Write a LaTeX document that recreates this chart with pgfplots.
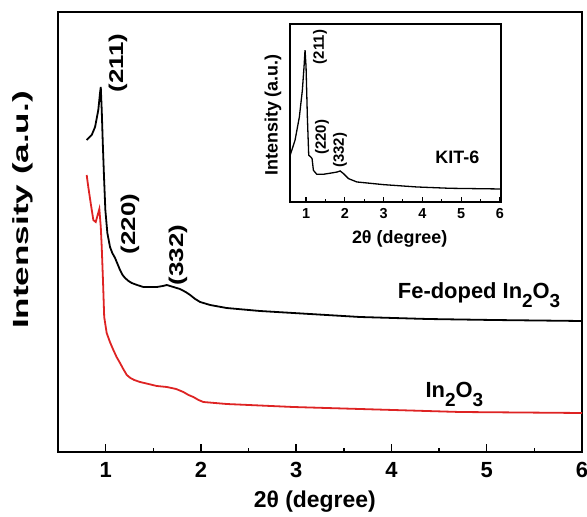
\documentclass[border=0pt]{standalone}
\usepackage{pgfplots}
\pgfplotsset{compat=1.18}
\usepackage{graphicx}
\usepackage{fontspec}
\setmainfont{Liberation Sans}
\definecolor{inred}{RGB}{222,35,35}
\newcommand\sub[1]{\raisebox{-0.45em}{\fontsize{19}{19}\selectfont #1}}

\begin{document}
\begin{tikzpicture}
\path[use as bounding box] (0,0) rectangle (587bp,517bp);

% main panel
\begin{axis}[
    at={(58bp,65bp)}, anchor=south west,
    scale only axis, width=524bp, height=440bp,
    xmin=0.5, xmax=6, ymin=0, ymax=440,
    xtick={1,2,3,4,5,6}, minor xtick={1.5,2.5,3.5,4.5,5.5},
    xtick pos=bottom, ytick=\empty,
    major tick length=8bp, minor tick length=4bp,
    every tick/.style={line width=1.4bp, black},
    axis line style={line width=1.6bp},
    /pgf/number format/assume math mode=true,
    tick label style={font=\fontsize{22}{22}\selectfont\bfseries},
    xticklabel style={yshift=-7bp},
    xlabel={2θ (degree)},
    xlabel style={at={(rel axis cs:0.49,-0.113)}, anchor=center,
        font=\fontsize{23}{23}\selectfont\bfseries},
    ylabel={\scalebox{1.6}[1]{Intensity (a.u.)}},
    ylabel style={at={(rel axis cs:-0.067,0.55)}, anchor=center,
        font=\fontsize{22}{22}\selectfont\bfseries},
    clip=false,
]
% Fe-doped In2O3
\addplot[black, line width=1.8bp] coordinates {
(0.801,312)(0.854,317)(0.889,325)(0.923,342)(0.941,359)(0.949,365)
(0.959,342)(0.970,309)(0.983,275)(0.997,242)(1.018,219)(1.046,205)
(1.070,199)(1.099,194)(1.125,188)(1.151,182)(1.178,177)(1.204,174)
(1.240,171)(1.274,169)(1.330,167)(1.396,165)(1.470,165)(1.537,165)
(1.600,166)(1.642,167)(1.711,165)(1.780,163)(1.840,160)(1.887,157)
(1.940,153)(1.992,150)(2.097,147)(2.270,144)(2.620,141)(2.970,139)
(3.670,135)(4.380,133)(5.070,132)(6.000,131)
};
% In2O3
\addplot[inred, line width=1.8bp] coordinates {
(0.801,277)(0.818,265)(0.843,249)(0.871,232)(0.896,230)(0.934,243)
(0.949,225)(0.959,205)(0.972,172)(0.985,135)(1.011,119)(1.045,110)
(1.081,102)(1.115,95)(1.151,89)(1.185,83)(1.222,77)(1.260,74)
(1.300,72)(1.361,70)(1.450,68)(1.537,66)(1.642,65)(1.740,63)
(1.816,60)(1.870,57)(1.921,55)(1.975,52)(2.026,50)(2.270,48)
(2.970,45)(3.670,43)(4.720,40)(6.000,39)
};
\begin{scope}[font=\fontsize{20}{20}\selectfont\bfseries]
\node[rotate=90] at (axis cs:1.13,389) {\scalebox{1.3}[1]{(211)}};
\node[rotate=90] at (axis cs:1.256,228) {\scalebox{1.3}[1]{(220)}};
\node[rotate=90] at (axis cs:1.76,197) {\scalebox{1.3}[1]{(332)}};
\end{scope}
\begin{scope}[font=\fontsize{22}{22}\selectfont\bfseries]
\node[anchor=base] at (axis cs:4.92,154) {Fe-doped In\sub{2}O\sub{3}};
\node[anchor=base] at (axis cs:4.66,55) {In\sub{2}O\sub{3}};
\end{scope}
\end{axis}

% inset
\begin{axis}[
    at={(290bp,315bp)}, anchor=south west,
    scale only axis, width=211bp, height=178bp,
    xmin=0.586, xmax=6.03, ymin=0, ymax=533,
    xtick={1,2,3,4,5,6}, minor xtick={1.5,2.5,3.5,4.5,5.5},
    xtick pos=bottom, ytick=\empty,
    major tick length=5bp, minor tick length=3bp,
    every tick/.style={line width=1.1bp, black},
    axis line style={line width=1.3bp},
    axis background/.style={fill=white},
    /pgf/number format/assume math mode=true,
    tick label style={font=\fontsize{14.5}{14.5}\selectfont\bfseries},
    xticklabel style={yshift=-3bp},
    xlabel={2θ (degree)},
    xlabel style={at={(rel axis cs:0.52,-0.205)}, anchor=center,
        font=\fontsize{18}{18}\selectfont\bfseries},
    ylabel={Intensity (a.u.)},
    ylabel style={at={(rel axis cs:-0.081,0.489)}, anchor=center,
        font=\fontsize{18}{18}\selectfont\bfseries},
    clip=false,
]
\addplot[black, line width=1.3bp] coordinates {
(0.590,140)(0.716,185)(0.828,255)(0.905,335)(0.948,405)(0.974,455)
(1.000,405)(1.034,255)(1.069,140)(1.121,135)(1.155,130)(1.190,95)
(1.276,83)(1.448,83)(1.664,87)(1.810,90)(1.879,93)(1.966,85)
(2.095,70)(2.310,60)(3.000,52)(3.860,45)(4.720,41)(6.000,39)
};
\begin{scope}[font=\fontsize{15}{15}\selectfont\bfseries]
\node[rotate=90] at (axis cs:1.362,464) {(211)};
\node[rotate=90] at (axis cs:1.414,194) {(220)};
\node[rotate=90] at (axis cs:1.879,155) {(332)};
\end{scope}
\node[font=\fontsize{18}{18}\selectfont\bfseries] at (axis cs:4.905,134) {KIT-6};
\end{axis}
\end{tikzpicture}
\end{document}
